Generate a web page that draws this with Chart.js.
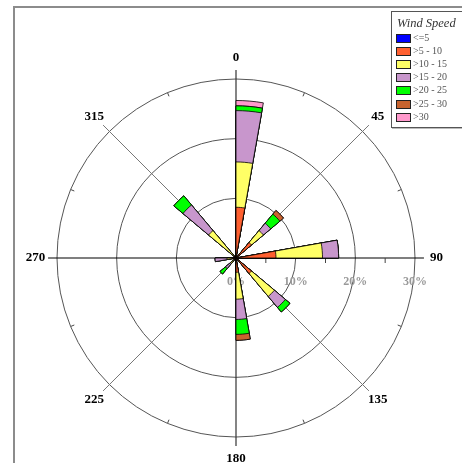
<!DOCTYPE html>
<html>
<head>
<meta charset="utf-8">
<script src="https://cdn.jsdelivr.net/npm/chart.js@4.4.1/dist/chart.umd.min.js"></script>
<style>
    html, body { margin: 0; padding: 0; background: #fff; overflow: hidden; }
    #wrap { position: relative; width: 462px; height: 463px; overflow: hidden; }
    #frame { position: absolute; left: 13px; top: 6px; width: 520px; height: 520px; border: 2px solid #8c8c8c; box-sizing: border-box; }
    #myChart { position: absolute; left: 0; top: 0; }
    #legend { position: absolute; left: 391px; top: 11px; width: 90px; height: 115px; border: 1.5px solid #555; background: #fff;
              box-shadow: 1px 1px 0 #bbb; font-family: 'Liberation Serif', 'DejaVu Serif', serif; }
    #legend .title { position: absolute; left: 5px; top: 4px; font-size: 12.5px; font-style: italic; color: #333; white-space: nowrap; }
    #legend .item { position: absolute; left: 4px; height: 10px; white-space: nowrap; font-size: 10px; line-height: 10px; color: #555; }
    #legend .box { display: inline-block; width: 13px; height: 7px; border: 1px solid #222; vertical-align: top; margin-right: 2px; margin-top: 1px; }
</style>
</head>
<body>
<div id="wrap">
    <div id="frame"></div>
    <canvas id="myChart" width="462" height="463"></canvas>
    <div id="legend"><div class="title">Wind Speed</div></div>
</div>
<script>
// Sektory (začátek 10° výseče) a podíly v % pro každou třídu rychlosti
var sectorStarts = [0, 40, 80, 130, 170, 220, 260, 310];

var speedClasses = ['<=5', '>5 - 10', '>10 - 15', '>15 - 20', '>20 - 25', '>25 - 30', '>30'];
var speedColors = ['#0000FF', '#FF6030', '#FFFF66', '#C896CC', '#00FF00', '#C8642F', '#FF99CC'];

var calm    = [0,   0,   0,   0,   0,   0,   0,   0  ];
var s5to10  = [8.5, 3.4, 6.7, 3.4, 2.4, 0.4, 0.6, 0.4];
var s10to15 = [7.6, 2.6, 7.8, 5.0, 4.5, 0.8, 0.9, 5.6];
var s15to20 = [8.6, 1.6, 2.7, 2.4, 3.4, 1.1, 2.0, 5.6];
var s20to25 = [0.8, 2.0, 0,   1.0, 2.5, 1.2, 0,   2.0];
var s25to30 = [0,   0.8, 0,   0,   1.0, 0,   0,   0  ];
var over30  = [0.9, 0,   0,   0,   0,   0,   0,   0  ];

// Mřížka a popisky
var spokeAngles = [0, 45, 90, 135, 180, 225, 270, 315];
var spokeLabels = ['0', '45', '90', '135', '180', '225', '270', '315'];
var ringValues = [0, 10, 20, 30];
var ringLabels = ['0%', '10%', '20%', '30%'];
var axisTicks = [5, 15, 25];

var series = [calm, s5to10, s10to15, s15to20, s20to25, s25to30, over30];

// 36 výsečí po 10°
var binLabels = [];
for (var b = 0; b < 36; b++) binLabels.push(String(b * 10));

// Kumulativní hodnoty (stohování), první dataset se kreslí navrch
var running = sectorStarts.map(function () { return 0; });
var datasets = series.map(function (vals, k) {
    var full = binLabels.map(function () { return 0; });
    vals.forEach(function (v, i) {
        running[i] += v;
        full[sectorStarts[i] / 10] = +running[i].toFixed(2);
    });
    return {
        label: speedClasses[k],
        data: full,
        backgroundColor: speedColors[k],
        borderColor: '#000',
        borderWidth: 0.8
    };
});

var roseFrame = {
    id: 'roseFrame',
    beforeDatasetsDraw: function (chart) {
        var r = chart.scales.r;
        var ctx = chart.ctx;
        var cx = r.xCenter, cy = r.yCenter;
        function pos(deg, v, extra) {
            var a = (deg - 90) * Math.PI / 180;
            var d = r.getDistanceFromCenterForValue(v) + (extra || 0);
            return [cx + d * Math.cos(a), cy + d * Math.sin(a)];
        }
        ctx.save();
        // paprsky
        spokeAngles.forEach(function (deg) {
            var p = pos(deg, 31.5);
            ctx.beginPath();
            ctx.moveTo(cx, cy);
            ctx.lineTo(p[0], p[1]);
            ctx.lineWidth = deg % 90 === 0 ? 1.2 : 1;
            ctx.strokeStyle = deg % 180 === 90 ? '#000' : (deg % 90 === 0 ? '#333' : '#777');
            ctx.stroke();
        });
        // značky na vnějším kruhu
        ctx.strokeStyle = '#444';
        ctx.lineWidth = 1;
        for (var k = 0; k < 8; k++) {
            var deg = 22.5 + k * 45;
            var p1 = pos(deg, 30), p2 = pos(deg, 30, -4);
            ctx.beginPath(); ctx.moveTo(p1[0], p1[1]); ctx.lineTo(p2[0], p2[1]); ctx.stroke();
        }
        // značky na ose 90
        axisTicks.forEach(function (v) {
            var p = pos(90, v);
            ctx.beginPath(); ctx.moveTo(p[0], p[1]); ctx.lineTo(p[0], p[1] + 5); ctx.stroke();
        });
        // popisky směrů
        ctx.fillStyle = '#000';
        ctx.font = 'bold 13px "Liberation Serif"';
        ctx.textAlign = 'center';
        ctx.textBaseline = 'middle';
        spokeAngles.forEach(function (deg, i) {
            var p = pos(deg, 33.6);
            ctx.fillText(spokeLabels[i], p[0], p[1]);
        });
        // popisky procent
        ctx.fillStyle = '#999';
        ctx.font = 'bold 12px "Liberation Serif"';
        ringValues.forEach(function (v, i) {
            var p = pos(90, v);
            ctx.fillText(ringLabels[i], p[0], p[1] + 24);
        });
        ctx.restore();
    }
};

var ctx = document.getElementById('myChart').getContext('2d');
var myChart = new Chart(ctx, {
    type: 'polarArea',
    data: { labels: binLabels, datasets: datasets },
    plugins: [roseFrame],
    options: {
        responsive: false,
        animation: false,
        events: [],
        layout: { padding: { left: 57, right: 47, top: 79, bottom: 26 } },
        scales: {
            r: {
                min: 0,
                max: 30,
                startAngle: 0,
                ticks: { display: false, stepSize: 10 },
                grid: { circular: true, color: '#555', lineWidth: 1 },
                angleLines: { display: false },
                pointLabels: { display: false }
            }
        },
        plugins: { legend: { display: false }, tooltip: { enabled: false } }
    }
});

// Legenda
var legend = document.getElementById('legend');
speedClasses.forEach(function (name, i) {
    var item = document.createElement('div');
    item.className = 'item';
    item.style.top = (21 + i * 13.1) + 'px';
    item.innerHTML = '<span class="box" style="background:' + speedColors[i] + '"></span>';
    item.appendChild(document.createTextNode(name));
    legend.appendChild(item);
});
</script>
</body>
</html>
